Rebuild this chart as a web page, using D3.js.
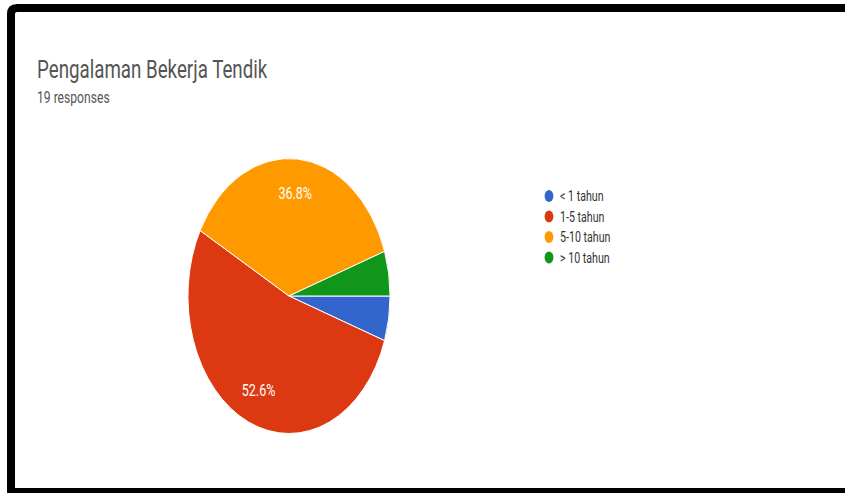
<!DOCTYPE html>
<html>
<head>
<meta charset="utf-8">
<script src="https://cdn.jsdelivr.net/npm/d3@7"></script>
<style>
  html, body { margin: 0; padding: 0; background: #fff; overflow: hidden; }
  svg { display: block; }
</style>
</head>
<body>
<svg id="chart"></svg>
<script>
const title = 'Pengalaman Bekerja Tendik'
const subtitle = '19 responses'
const categories = ['< 1 tahun', '1-5 tahun', '5-10 tahun', '> 10 tahun']
const counts = [1, 10, 7, 1]
const colors = ['#3366cc', '#dc3912', '#ff9900', '#109618']

const width = 845, height = 493
// the source picture is squeezed sideways, so everything is drawn with this x-scale
const squeeze = 0.735

const svg = d3.select('#chart').attr('width', width).attr('height', height)
  .style('font-family', 'Roboto, Arial, sans-serif')

// frame: left, top and bottom edges only (right edge is cut off)
svg.append('path')
  .attr('d', `M${width + 10},8 H17 Q11,8 11,14 V492 H${width + 10}`)
  .attr('fill', 'none')
  .attr('stroke', '#000')
  .attr('stroke-width', 8)

function squeezedText(x, y, str, size, fill, anchor) {
  return svg.append('text')
    .attr('transform', `translate(${x},${y}) scale(${squeeze},1)`)
    .attr('font-size', size)
    .attr('fill', fill)
    .attr('text-anchor', anchor || 'start')
    .text(str)
}

squeezedText(37, 78, title, 25.5, '#555')
squeezedText(37, 103, subtitle, 16.5, '#555')

// pie
const cx = 289, cy = 296, r = 137.5
const total = d3.sum(counts)
const pie = d3.pie().sort(null)
  .startAngle(Math.PI / 2).endAngle(Math.PI / 2 + 2 * Math.PI)
const arcs = pie(counts)
const arc = d3.arc().innerRadius(0).outerRadius(r)
const labelArc = d3.arc().innerRadius(r * 0.75).outerRadius(r * 0.75)

const g = svg.append('g').attr('transform', `translate(${cx},${cy}) scale(${squeeze},1)`)
g.selectAll('path').data(arcs).enter().append('path')
  .attr('d', arc)
  .attr('fill', (d, i) => colors[i])
  .attr('stroke', '#fff')
  .attr('stroke-width', 1)
  .attr('vector-effect', 'non-scaling-stroke')

arcs.forEach(d => {
  const share = d.data / total
  if (share < 0.1) return
  const c = labelArc.centroid(d)
  squeezedText(cx + c[0] * squeeze, cy + c[1] + 6, d3.format('.1%')(share), 17, '#fff', 'middle')
})

// legend
const legend = svg.append('g')
categories.forEach((name, i) => {
  const y = 196 + i * 20.5
  legend.append('ellipse')
    .attr('cx', 549).attr('cy', y)
    .attr('rx', 6 * squeeze).attr('ry', 6)
    .attr('fill', colors[i])
  squeezedText(560, y + 5, name, 14.5, '#333')
})
</script>
</body>
</html>
